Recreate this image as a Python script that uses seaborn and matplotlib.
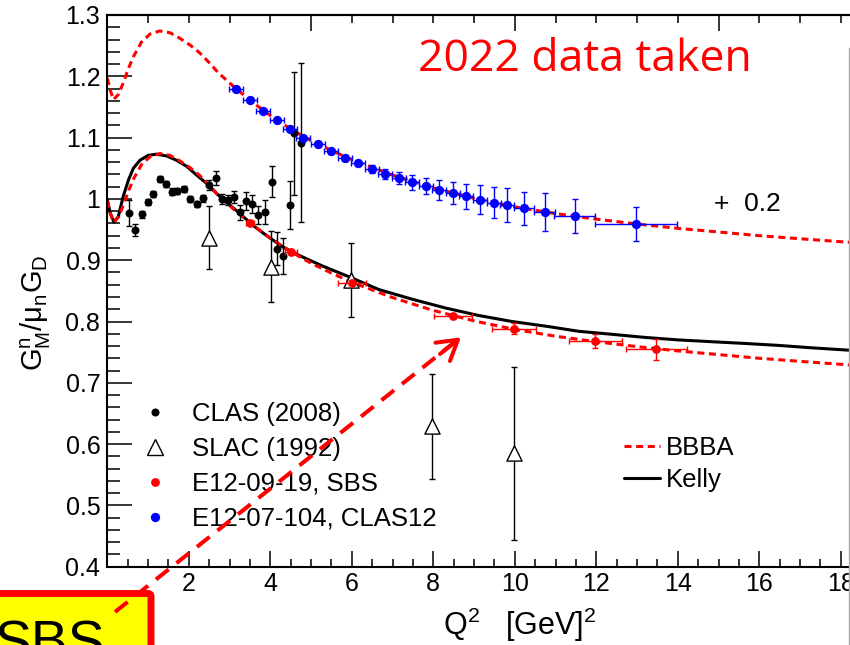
import matplotlib
matplotlib.use("Agg")
import matplotlib.pyplot as plt
import seaborn as sns
from matplotlib.lines import Line2D
from matplotlib.patches import FancyBboxPatch, FancyArrowPatch
from matplotlib.ticker import FixedLocator, MultipleLocator, FixedFormatter

# ---------------- data ----------------
# CLAS (2008): Q^2, G_M^n/(mu_n G_D), stat. error
clas08_q2 = [0.54, 0.69, 0.85, 0.99, 1.13, 1.30, 1.44, 1.59, 1.72, 1.87, 2.03, 2.20,
             2.36, 2.50, 2.66, 2.81, 2.97, 3.11, 3.25, 3.40, 3.56, 3.71, 3.87, 4.04,
             4.16, 4.32, 4.49, 4.58, 4.76]
clas08_val = [0.977, 0.949, 0.975, 0.995, 1.008, 1.032, 1.024, 1.012, 1.013, 1.016, 1.000, 0.992,
              1.001, 1.023, 1.034, 1.000, 0.998, 1.003, 0.978, 0.997, 0.992, 0.974, 0.979, 1.028,
              0.919, 0.907, 0.990, 1.107, 1.092]
clas08_err = [0.022, 0.010, 0.006, 0.005, 0.005, 0.005, 0.005, 0.005, 0.005, 0.005, 0.005, 0.005,
              0.006, 0.008, 0.011, 0.008, 0.008, 0.010, 0.012, 0.015, 0.015, 0.015, 0.020, 0.025,
              0.027, 0.030, 0.039, 0.100, 0.130]

# SLAC (1992)
slac_q2 = [2.50, 4.01, 5.99, 7.97, 9.98]
slac_val = [0.937, 0.889, 0.868, 0.629, 0.585]
slac_err = [0.052, 0.058, 0.060, 0.086, 0.141]

# E12-09-19, SBS (projected)
sbs_q2 = [3.50, 4.50, 6.00, 8.48, 9.98, 11.98, 13.47]
sbs_val = [0.960, 0.914, 0.863, 0.809, 0.788, 0.768, 0.755]
sbs_xerr = [0.10, 0.15, 0.34, 0.47, 0.55, 0.65, 0.75]
sbs_yerr = [0.003, 0.003, 0.004, 0.004, 0.009, 0.012, 0.017]

# E12-07-104, CLAS12 (projected), drawn shifted by +0.2
clas12_q2 = [3.15, 3.50, 3.83, 4.16, 4.49, 4.80, 5.17, 5.50, 5.83, 6.16, 6.50, 6.82,
             7.15, 7.48, 7.82, 8.15, 8.48, 8.81, 9.15, 9.49, 9.81, 10.23, 10.73, 11.47, 12.97]
clas12_val = [0.979, 0.961, 0.943, 0.929, 0.914, 0.900, 0.889, 0.878, 0.867, 0.858, 0.849, 0.841,
              0.834, 0.827, 0.821, 0.815, 0.809, 0.804, 0.799, 0.794, 0.790, 0.785, 0.779, 0.772, 0.759]
clas12_xerr = [0.17] * 21 + [0.25, 0.25, 0.50, 1.00]
clas12_yerr = [0.003, 0.003, 0.003, 0.003, 0.003, 0.003, 0.004, 0.004, 0.005, 0.005, 0.006, 0.008,
               0.010, 0.012, 0.013, 0.016, 0.018, 0.021, 0.023, 0.025, 0.028, 0.027, 0.031, 0.028, 0.028]
clas12_shift = 0.2

# BBBA parametrisation
bbba_q2 = [0.0, 0.07, 0.15, 0.27, 0.39, 0.52, 0.64, 0.84, 1.05, 1.29, 1.54, 1.78, 2.03, 2.27,
           2.52, 2.72, 3.07, 3.5, 4.0, 4.5, 5.0, 5.5, 6.0, 7.0, 8.0, 9.0, 10.0, 11.0, 12.0,
           13.0, 14.0, 15.0, 16.0, 17.0, 18.25]
bbba_val = [0.997, 0.978, 0.962, 0.970, 0.989, 1.013, 1.032, 1.056, 1.069, 1.074, 1.071, 1.062,
            1.051, 1.038, 1.021, 1.006, 0.985, 0.961, 0.936, 0.914, 0.895, 0.879, 0.864, 0.839,
            0.818, 0.801, 0.787, 0.776, 0.767, 0.759, 0.752, 0.746, 0.740, 0.735, 0.729]

# Kelly parametrisation
kelly_q2 = [0.0, 0.07, 0.165, 0.27, 0.39, 0.52, 0.64, 0.8, 1.0, 1.21, 1.46, 1.7, 1.95, 2.19,
            2.44, 2.68, 2.91, 3.24, 3.57, 3.89, 4.3, 4.7, 5.3, 5.93, 6.67, 7.5, 8.3, 9.1, 9.93,
            10.8, 11.57, 12.4, 13.2, 14.0, 14.84, 15.7, 16.47, 17.3, 18.25]
kelly_val = [0.999, 0.977, 0.962, 0.971, 1.004, 1.031, 1.050, 1.063, 1.071, 1.073, 1.070, 1.063,
             1.053, 1.039, 1.025, 1.009, 0.995, 0.977, 0.957, 0.941, 0.922, 0.908, 0.890, 0.873,
             0.852, 0.836, 0.822, 0.810, 0.800, 0.792, 0.784, 0.779, 0.774, 0.770, 0.767, 0.764,
             0.761, 0.757, 0.753]

y_ticks = [0.4, 0.5, 0.6, 0.7, 0.8, 0.9, 1.0, 1.1, 1.2, 1.3]
y_tick_labels = ["0.4", "0.5", "0.6", "0.7", "0.8", "0.9", "1", "1.1", "1.2", "1.3"]
x_ticks = [2, 4, 6, 8, 10, 12, 14, 16, 18]
x_tick_labels = [str(v) for v in x_ticks]

# ---------------- style ----------------
sns.set_theme(style="ticks")
plt.rcParams["font.family"] = ["Liberation Sans", "DejaVu Sans"]
plt.rcParams["mathtext.fontset"] = "custom"
plt.rcParams["mathtext.rm"] = "Liberation Sans"
plt.rcParams["mathtext.it"] = "Liberation Sans"
plt.rcParams["mathtext.bf"] = "Liberation Sans:bold"
for key in ["text.color", "axes.labelcolor", "xtick.color", "ytick.color", "axes.edgecolor"]:
    plt.rcParams[key] = "black"

RED = "#ff0000"
BLUE = "#0000ff"
W, H = 850, 645
FS_TICK = 18.0
FS_LEG = 18.5

fig = plt.figure(figsize=(W / 100, H / 100), dpi=100)
fig.patch.set_facecolor("white")

x0_px, x1_px, y_top_px, y_bot_px = 107.3, 850.0, 15.0, 566.7
ax = fig.add_axes([x0_px / W, (H - y_bot_px) / H, (x1_px - x0_px) / W, (y_bot_px - y_top_px) / H])
ax.set_facecolor("white")
ax.set_xlim(0, (x1_px - x0_px) / 40.75)
ax.set_ylim(0.4, 1.3)

# model curves
sns.lineplot(x=bbba_q2, y=[v + clas12_shift for v in bbba_val], ax=ax, color=RED, lw=2.2,
             linestyle=(0, (2.3, 1.5)), sort=False, estimator=None, zorder=2)
sns.lineplot(x=kelly_q2, y=kelly_val, ax=ax, color="black", lw=2.2,
             sort=False, estimator=None, zorder=2)
sns.lineplot(x=bbba_q2, y=bbba_val, ax=ax, color=RED, lw=2.2,
             linestyle=(0, (2.3, 1.5)), sort=False, estimator=None, zorder=2.1)

# error bars
eb_kw = dict(fmt="none", capsize=2.3, elinewidth=1.0, capthick=1.0)
ax.errorbar(slac_q2, slac_val, yerr=slac_err, ecolor="black", zorder=3, **eb_kw)
ax.errorbar(clas08_q2, clas08_val, yerr=clas08_err, ecolor="black", zorder=3, **eb_kw)
ax.errorbar(sbs_q2, sbs_val, xerr=sbs_xerr, yerr=sbs_yerr, ecolor=RED, zorder=4, **eb_kw)
ax.errorbar(clas12_q2, [v + clas12_shift for v in clas12_val], xerr=clas12_xerr,
            yerr=clas12_yerr, ecolor=BLUE, zorder=4, **eb_kw)

# markers
sns.scatterplot(x=slac_q2, y=slac_val, ax=ax, marker="^", s=120, facecolor="white",
                edgecolor="black", linewidth=1.0, zorder=3.5)
sns.scatterplot(x=clas08_q2, y=clas08_val, ax=ax, marker="o", s=33, color="black",
                linewidth=0, zorder=3.6)
sns.scatterplot(x=sbs_q2, y=sbs_val, ax=ax, marker="o", s=40, color=RED,
                linewidth=0, zorder=4.5)
sns.scatterplot(x=clas12_q2, y=[v + clas12_shift for v in clas12_val], ax=ax, marker="o",
                s=45, color=BLUE, linewidth=0, zorder=4.5)

# axes frame and ticks
for side in ["left", "bottom", "top"]:
    ax.spines[side].set_linewidth(1.5)
    ax.spines[side].set_color("black")
ax.spines["right"].set_visible(False)

ax.yaxis.set_major_locator(FixedLocator(y_ticks))
ax.yaxis.set_major_formatter(FixedFormatter(y_tick_labels))
ax.yaxis.set_minor_locator(MultipleLocator(0.02))
ax.xaxis.set_major_locator(FixedLocator(x_ticks))
ax.xaxis.set_major_formatter(FixedFormatter(x_tick_labels))
ax.xaxis.set_minor_locator(MultipleLocator(0.5))
ax.tick_params(axis="y", which="major", direction="in", length=18, width=1.1,
               labelsize=FS_TICK, pad=5, left=True, right=False, colors="black")
ax.tick_params(axis="y", which="minor", direction="in", length=9.4, width=1.1,
               left=True, right=False)
ax.tick_params(axis="x", which="major", direction="in", length=11.5, width=1.1,
               labelsize=FS_TICK, pad=4, bottom=True, top=False, colors="black")
ax.tick_params(axis="x", which="minor", direction="in", length=5.8, width=1.1,
               bottom=True, top=False)

top = ax.secondary_xaxis("top")
top.xaxis.set_major_locator(MultipleLocator(5))
top.xaxis.set_minor_locator(MultipleLocator(1))
top.tick_params(which="major", direction="in", length=11.5, width=1.1, labeltop=False)
top.tick_params(which="minor", direction="in", length=5.8, width=1.1)
top.spines["top"].set_linewidth(1.5)

ax.set_xlabel(r"$\mathrm{Q^{2}\ \ \ [GeV]^{2}}$", fontsize=22)
ax.xaxis.set_label_coords((520 - x0_px) / (x1_px - x0_px), (y_bot_px - 606) / (y_bot_px - y_top_px))
ax.set_ylabel(r"$\mathrm{G^{n}_{M}/\mu_{n}G_{D}}$", fontsize=21)
ax.yaxis.set_label_coords((53 - x0_px) / (x1_px - x0_px), (y_bot_px - 313) / (y_bot_px - y_top_px))

# annotations
ax.text(14.89, 0.992, "+  0.2", fontsize=19, ha="left", va="center", color="black")
fig.text(585 / W, 1 - 60 / H, "2022 data taken", color=RED, fontsize=32,
         family=["Open Sans", "DejaVu Sans"], ha="center", va="center")

# legends
def px_to_fig(px, py):
    return px / W, 1 - py / H

em = FS_LEG * 100 / 72
data_handles = [
    Line2D([], [], ls="none", marker="o", ms=5.8, color="black", mec="none"),
    Line2D([], [], ls="none", marker="^", ms=11, mfc="white", mec="black", mew=1.0),
    Line2D([], [], ls="none", marker="o", ms=6.3, color=RED, mec="none"),
    Line2D([], [], ls="none", marker="o", ms=6.7, color=BLUE, mec="none"),
]
data_labels = ["CLAS (2008)", "SLAC (1992)", "E12-09-19, SBS", "E12-07-104, CLAS12"]
leg1 = ax.legend(data_handles, data_labels, loc="upper left",
                 bbox_to_anchor=px_to_fig(155 - em / 2, 401.5), bbox_transform=fig.transFigure,
                 frameon=False, fontsize=FS_LEG, handlelength=1.0,
                 handletextpad=(192 - 155 - em / 2) / em,
                 labelspacing=0.43, borderpad=0, borderaxespad=0)
ax.add_artist(leg1)

model_handles = [
    Line2D([], [], color=RED, lw=2.2, linestyle=(0, (2.3, 1.5))),
    Line2D([], [], color="black", lw=2.2),
]
leg2 = ax.legend(model_handles, ["BBBA", "Kelly"], loc="upper left",
                 bbox_to_anchor=px_to_fig(624.3, 436), bbox_transform=fig.transFigure,
                 frameon=False, fontsize=FS_LEG, handlelength=35.7 / em, handletextpad=0.22,
                 labelspacing=0.32, borderpad=0, borderaxespad=0)

# slide overlay: SBS label box with pointing arrow
box = FancyBboxPatch((-20 / W, -30 / H), 171 / W, (645 - 593.5 + 30) / H,
                     boxstyle="round,pad=0,rounding_size=0.004", transform=fig.transFigure,
                     facecolor="#ffff00", edgecolor=RED, linewidth=5.0, zorder=10)
fig.patches.append(box)
fig.text(-5 / W, 1 - 659 / H, "SBS", fontsize=40, color="black", ha="left",
         va="baseline", zorder=11)

(sx, sy), (ex, ey) = px_to_fig(115, 612), px_to_fig(458, 339.5)
fig.add_artist(Line2D([sx, ex], [sy, ey], transform=fig.transFigure, color=RED, lw=2.9,
                      dashes=(4, 2.5), zorder=12))
hx, hy = px_to_fig(461, 337.3)
head = FancyArrowPatch(px_to_fig(440, 354), (hx, hy), transform=fig.transFigure,
                       arrowstyle="->,head_length=1.0,head_width=0.6", color=RED, lw=2.9,
                       mutation_scale=14, zorder=12, shrinkA=0, shrinkB=0)
fig.add_artist(head)

# thin slide border at the right
fig.add_artist(Line2D([849 / W, 849 / W], [0, 1 - 48 / H], transform=fig.transFigure,
                      color="#aaaaaa", lw=1.0, zorder=12))

fig.savefig("out.png", dpi=100)
